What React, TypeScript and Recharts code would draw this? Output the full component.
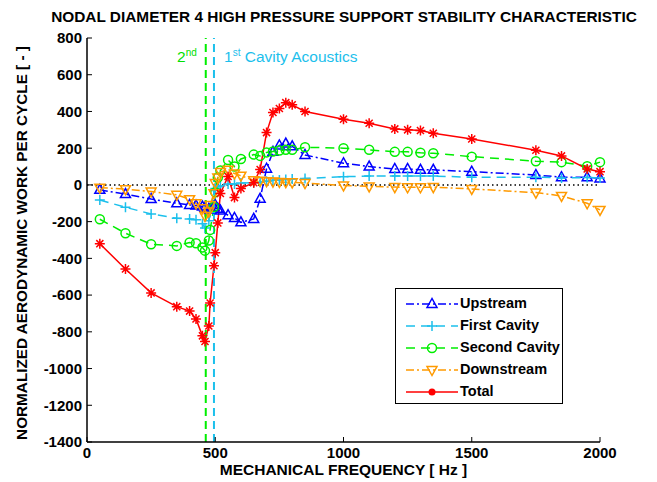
import React from 'react'
import { LineChart, Line, XAxis, YAxis, ReferenceLine } from 'recharts'

const FONT = '"Liberation Sans", Arial, sans-serif'

const freqs = [50, 150, 250, 350, 400, 425, 450, 460, 475, 480, 495, 500, 510, 520, 550, 575, 600, 650, 675, 700, 725, 750, 775, 800, 850, 1000, 1100, 1200, 1250, 1300, 1350, 1500, 1750, 1850, 1950, 2000]

const upstream = [-27, -50, -77, -100, -109, -112, -118, -125, -130, -135, -120, -110, -130, -140, -165, -180, -204, -185, -75, 88, 180, 215, 225, 210, 163, 118, 100, 87, 87, 82, 82, 72, 54, 42, 42, 35]
const firstCavity = [-82, -122, -158, -182, -185, -190, -212, -235, -195, -150, -30, -20, -10, -5, 5, 5, 10, 12, 15, 20, 25, 27, 30, 32, 35, 45, 48, 48, 48, 48, 48, 42, 42, 38, 40, 38]
const secondCavity = [-187, -263, -323, -332, -314, -318, -341, -358, -303, -245, -120, -40, 40, 78, 136, 100, 141, 165, 158, 177, 182, 187, 191, 191, 205, 200, 191, 180, 180, 175, 172, 154, 129, 124, 102, 124]
const downstream = [-15, -23, -36, -54, -78, -100, -127, -169, -145, -110, -45, 10, 40, 70, 83, 62, 50, 25, 22, 20, 18, 16, 15, 14, 10, -3, -8, -12, -13, -13, -12, -22, -42, -60, -100, -136]
const total = [-320, -458, -588, -663, -687, -730, -822, -853, -768, -643, -440, -369, -207, -47, 46, -69, -19, 12, 84, 285, 394, 416, 448, 436, 400, 358, 336, 305, 300, 296, 281, 250, 189, 158, 87, 72]

const xTicks = [0, 500, 1000, 1500, 2000]
const yTicks = [-1400, -1200, -1000, -800, -600, -400, -200, 0, 200, 400, 600, 800]

const secondCavityMode = 463
const firstCavityMode = 495

type Kind = 'triUp' | 'plus' | 'circle' | 'triDown' | 'star'

const series: { key: string; name: string; color: string; dash?: string; marker: Kind }[] = [
  { key: 'upstream', name: 'Upstream', color: '#0000ff', dash: '8 3 2 3', marker: 'triUp' },
  { key: 'firstCavity', name: 'First Cavity', color: '#1cc0ec', dash: '9 6', marker: 'plus' },
  { key: 'secondCavity', name: 'Second Cavity', color: '#00ee00', dash: '9 6', marker: 'circle' },
  { key: 'downstream', name: 'Downstream', color: '#ff9a00', dash: '8 3 2 3', marker: 'triDown' },
  { key: 'total', name: 'Total', color: '#ff0000', marker: 'star' },
]

const rows = freqs.map((f, i) => ({
  f,
  upstream: upstream[i],
  firstCavity: firstCavity[i],
  secondCavity: secondCavity[i],
  downstream: downstream[i],
  total: total[i],
}))

function Marker({ kind, cx, cy, color }: { kind: Kind; cx: number; cy: number; color: string }) {
  if (cx == null || cy == null) return null
  const sw = 1.5
  switch (kind) {
    case 'triUp':
      return <polygon points={`${cx},${cy - 5.5} ${cx - 5},${cy + 3.5} ${cx + 5},${cy + 3.5}`} fill="none" stroke={color} strokeWidth={sw} />
    case 'triDown':
      return <polygon points={`${cx},${cy + 5.5} ${cx - 5},${cy - 3.5} ${cx + 5},${cy - 3.5}`} fill="none" stroke={color} strokeWidth={sw} />
    case 'plus':
      return <path d={`M${cx - 5},${cy}H${cx + 5}M${cx},${cy - 5}V${cy + 5}`} stroke={color} strokeWidth={sw} fill="none" />
    case 'circle':
      return <circle cx={cx} cy={cy} r={4.5} fill="none" stroke={color} strokeWidth={sw} />
    default: {
      const r = 5
      const d = r * 0.707
      return (
        <path
          d={`M${cx - r},${cy}H${cx + r}M${cx},${cy - r}V${cy + r}M${cx - d},${cy - d}L${cx + d},${cy + d}M${cx - d},${cy + d}L${cx + d},${cy - d}`}
          stroke={color}
          strokeWidth={sw}
          fill="none"
        />
      )
    }
  }
}

const tickStyle = { fill: '#000', fontSize: 15, fontWeight: 'bold' as const, fontFamily: FONT }
const noLabel = () => <g />

function LegendBox() {
  return (
    <div
      style={{
        position: 'absolute', left: 395, top: 288, width: 166, height: 114,
        border: '1px solid #000', background: '#fff', fontFamily: FONT,
      }}
    >
      {series.map((s, i) => (
        <div key={s.key} style={{ position: 'absolute', left: 0, top: 4 + i * 22, height: 22, width: 166 }}>
          <svg width={62} height={22} style={{ position: 'absolute', left: 6, top: 0 }}>
            <line x1={4} y1={11} x2={56} y2={11} stroke={s.color} strokeWidth={1.5} strokeDasharray={s.dash} />
            {s.marker === 'star'
              ? <circle cx={30} cy={11} r={3.5} fill={s.color} />
              : <Marker kind={s.marker} cx={30} cy={11} color={s.color} />}
          </svg>
          <span style={{ position: 'absolute', left: 64, top: 2, fontSize: 14.5, fontWeight: 'bold', color: '#000', whiteSpace: 'nowrap' }}>
            {s.name}
          </span>
        </div>
      ))}
    </div>
  )
}

export default function App() {
  return (
    <div style={{ position: 'absolute', left: 0, top: 0, width: 657, height: 482, background: '#fff', fontFamily: FONT }}>
      <LineChart width={657} height={482} data={rows} margin={{ top: 38, right: 57, bottom: 10, left: 27 }}>
        <XAxis
          dataKey="f" type="number" domain={[0, 2000]} ticks={xTicks} height={30}
          tick={tickStyle} tickSize={-5} tickMargin={10}
          axisLine={{ stroke: '#000', strokeWidth: 1.5 }} tickLine={{ stroke: '#000' }}
        />
        <XAxis
          xAxisId="top" orientation="top" type="number" domain={[0, 2000]} ticks={xTicks} height={0}
          tick={noLabel} tickSize={-5} axisLine={{ stroke: '#000', strokeWidth: 1.5 }} tickLine={{ stroke: '#000' }}
        />
        <YAxis
          type="number" domain={[-1400, 800]} ticks={yTicks} width={60}
          tick={tickStyle} tickSize={-5} tickMargin={10}
          axisLine={{ stroke: '#000', strokeWidth: 1.5 }} tickLine={{ stroke: '#000' }}
        />
        <YAxis
          yAxisId="right" orientation="right" type="number" domain={[-1400, 800]} ticks={yTicks} width={0}
          tick={noLabel} tickSize={-5} axisLine={{ stroke: '#000', strokeWidth: 1.5 }} tickLine={{ stroke: '#000' }}
        />
        <ReferenceLine y={0} stroke="#000" strokeWidth={1.5} strokeDasharray="1.5 3" />
        {series.map((s) => (
          <Line
            key={s.key}
            dataKey={s.key}
            name={s.name}
            type="linear"
            stroke={s.color}
            strokeWidth={1.5}
            strokeDasharray={s.dash}
            isAnimationActive={false}
            dot={(p: any) => <Marker key={`${s.key}-${p.index}`} kind={s.marker} cx={p.cx} cy={p.cy} color={s.color} />}
            activeDot={false}
          />
        ))}
        <ReferenceLine x={secondCavityMode} stroke="#00ee00" strokeWidth={2} strokeDasharray="8 5" />
        <ReferenceLine x={firstCavityMode} stroke="#1cc0ec" strokeWidth={2} strokeDasharray="8 5" />
      </LineChart>

      <div style={{ position: 'absolute', left: 0, width: 688, top: 8, textAlign: 'center', fontSize: 15.4, fontWeight: 'bold', whiteSpace: 'nowrap' }}>
        NODAL DIAMETER 4 HIGH PRESSURE SUPPORT STABILITY CHARACTERISTIC
      </div>
      <div style={{ position: 'absolute', left: 87, width: 513, top: 462, textAlign: 'center', fontSize: 15.5, lineHeight: '16px', fontWeight: 'bold', whiteSpace: 'nowrap' }}>
        MECHANICAL FREQUENCY [ Hz ]
      </div>
      <div
        style={{
          position: 'absolute', left: 22, top: 243, transform: 'translate(-50%, -50%) rotate(-90deg)',
          fontSize: 15.3, fontWeight: 'bold', whiteSpace: 'nowrap',
        }}
      >
        NORMALIZED AERODYNAMIC WORK PER CYCLE [ - ]
      </div>
      <div style={{ position: 'absolute', left: 177, top: 47, fontSize: 15.5, color: '#00e000', whiteSpace: 'nowrap' }}>
        2<sup style={{ fontSize: 10 }}>nd</sup>
      </div>
      <div style={{ position: 'absolute', left: 224, top: 47, fontSize: 15.5, color: '#1cc0ec', whiteSpace: 'nowrap' }}>
        1<sup style={{ fontSize: 10 }}>st</sup> Cavity Acoustics
      </div>
      <LegendBox />
    </div>
  )
}
